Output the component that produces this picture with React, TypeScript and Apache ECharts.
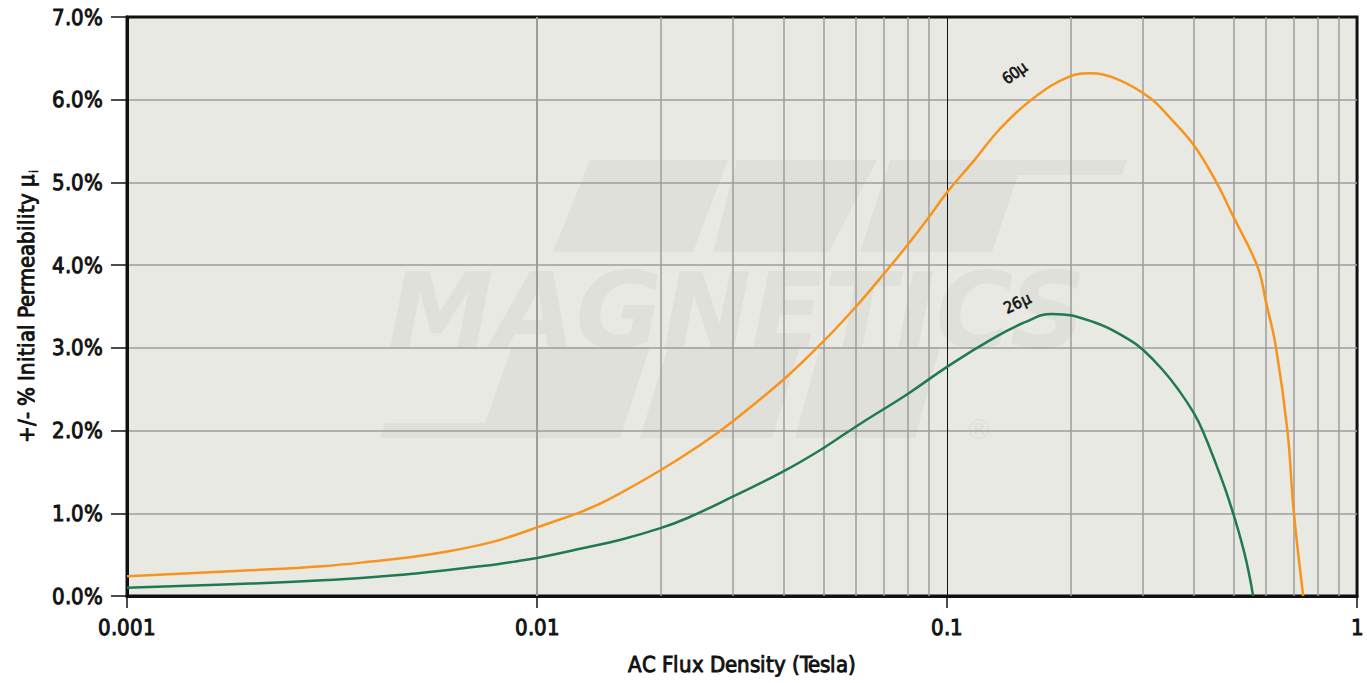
import React, { useEffect, useRef } from "react";
import * as echarts from "echarts";

// ---- data ----
const b60: number[] = [0.001, 0.002, 0.003, 0.004, 0.005, 0.006, 0.007, 0.008, 0.009, 0.01, 0.013, 0.015, 0.02, 0.025, 0.03, 0.04, 0.05, 0.06, 0.07, 0.08, 0.09, 0.1, 0.1166, 0.1342, 0.1615, 0.1987, 0.225, 0.26, 0.311, 0.35, 0.4, 0.453, 0.5, 0.572, 0.6, 0.634, 0.677, 0.7, 0.739];
const p60: number[] = [0.24, 0.31, 0.36, 0.42, 0.475, 0.535, 0.6, 0.67, 0.75, 0.83, 1.03, 1.17, 1.52, 1.825, 2.11, 2.62, 3.08, 3.5, 3.89, 4.24, 4.57, 4.88, 5.27, 5.64, 6.01, 6.28, 6.32, 6.25, 6.03, 5.78, 5.45, 5.01, 4.58, 3.98, 3.55, 3.01, 1.98, 1.05, 0];

const b26: number[] = [0.001, 0.002, 0.003, 0.004, 0.005, 0.006, 0.007, 0.008, 0.009, 0.01, 0.013, 0.016, 0.02, 0.0232, 0.03, 0.04, 0.05, 0.06, 0.08, 0.1, 0.128, 0.155, 0.1806, 0.2284, 0.278, 0.3, 0.3355, 0.3684, 0.4, 0.42, 0.4524, 0.4878, 0.5305, 0.5579];
const p26: number[] = [0.1, 0.15, 0.19, 0.23, 0.27, 0.31, 0.35, 0.385, 0.423, 0.46, 0.58, 0.68, 0.82, 0.94, 1.2, 1.51, 1.79, 2.05, 2.44, 2.77, 3.1, 3.31, 3.41, 3.31, 3.1, 2.98, 2.735, 2.48, 2.21, 2.0, 1.6, 1.15, 0.53, 0];

const xTickLabels: string[] = ["0.001", "0.01", "0.1", "1"];
const minorGrid: number[] = [0.002, 0.003, 0.004, 0.005, 0.006, 0.007, 0.008, 0.009, 0.02, 0.03, 0.04, 0.05, 0.06, 0.07, 0.08, 0.09, 0.2, 0.3, 0.4, 0.5, 0.6, 0.7, 0.8, 0.9];

const curveLabels = [
  { name: "60μ", b: 0.146, p: 6.32, rotate: 35 },
  { name: "26μ", b: 0.1483, p: 3.54, rotate: 25 },
];

const FONT = "CondX, 'DejaVu Sans', sans-serif";
const INK = "#111";
const ORANGE = "#f7941d";
const GREEN = "#217a4f";
const WM = "#e0e0db";

const FACE_CSS = `
@font-face{font-family:'CondX';font-weight:400;src:local('Liberation Sans Narrow'),local('LiberationSansNarrow-Regular'),local('DejaVu Sans Condensed'),local('DejaVuSansCondensed');}
`;

const boldish = { textBorderColor: INK, textBorderWidth: 0.9 };

export default function App() {
  const ref = useRef<HTMLDivElement>(null);
  useEffect(() => {
    document.body.style.margin = "0";
    const style = document.createElement("style");
    style.textContent = FACE_CSS;
    document.head.appendChild(style);
    let chart: echarts.ECharts | null = null;
    let disposed = false;
    const toXY = (bs: number[], ps: number[]) => bs.map((b, i) => [b, ps[i]]);
    const option: any = {
      animation: false,
      textStyle: { fontFamily: FONT },
      grid: {
        left: 127,
        right: 9,
        top: 17,
        bottom: 87,
        show: true,
        backgroundColor: "transparent",
        borderColor: INK,
        borderWidth: 3,
      },
      graphic: [
        { type: "rect", z: -20, shape: { x: 127, y: 17, width: 1231, height: 579 }, style: { fill: "#e9e9e4" } },
        { type: "polygon", z: -10, shape: { points: [[590, 160], [728, 160], [693, 252], [553, 252]] }, style: { fill: WM } },
        { type: "polygon", z: -10, shape: { points: [[737, 160], [877, 160], [829, 252], [713, 252]] }, style: { fill: WM } },
        { type: "polygon", z: -10, shape: { points: [[890, 160], [1127, 160], [1122, 175], [1018, 175], [992, 252], [860, 252]] }, style: { fill: WM } },
        { type: "polygon", z: -10, shape: { points: [[512, 347], [650, 347], [620, 438], [380, 438], [385, 423], [485, 423]] }, style: { fill: WM } },
        { type: "polygon", z: -10, shape: { points: [[668, 347], [800, 347], [772, 438], [640, 438]] }, style: { fill: WM } },
        { type: "polygon", z: -10, shape: { points: [[820, 347], [940, 347], [915, 438], [795, 438]] }, style: { fill: WM } },
        {
          type: "text",
          z: -9,
          x: 388,
          y: 258,
          style: { text: "MAGNETICS", fill: WM, font: "italic 900 106px 'DejaVu Sans', sans-serif" },
        },
        { type: "text", z: -9, x: 965, y: 415, style: { text: "®", fill: WM, font: "28px 'DejaVu Sans', sans-serif" } },
      ],
      xAxis: {
        type: "log",
        logBase: 10,
        min: 0.001,
        max: 1,
        name: "AC Flux Density (Tesla)",
        nameLocation: "middle",
        nameGap: 57,
        nameTextStyle: { fontFamily: FONT, fontSize: 22, color: INK, ...boldish },
        axisLine: { show: true, lineStyle: { color: INK, width: 3 } },
        axisTick: { show: true, length: 12, lineStyle: { color: INK, width: 1.5 } },
        axisLabel: {
          fontFamily: FONT,
          fontSize: 22,
          color: INK,
          margin: 20,
          ...boldish,
          formatter: (v: number) => xTickLabels[Math.round(Math.log10(v)) + 3],
        },
        splitLine: { show: true, showMinLine: false, showMaxLine: false, lineStyle: { color: INK, width: 1 } },
      },
      yAxis: {
        type: "value",
        min: 0,
        max: 7,
        interval: 1,
        name: "+/- % Initial Permeability μ{sub|i}",
        nameLocation: "middle",
        nameRotate: 90,
        nameGap: 85,
        nameTextStyle: {
          fontFamily: FONT,
          fontSize: 22,
          color: INK,
          ...boldish,
          rich: { sub: { fontFamily: FONT, fontSize: 12, color: INK, verticalAlign: "bottom", padding: [16, 0, 0, 1], ...boldish, textBorderWidth: 0.5 } },
        },
        axisLine: { show: true, lineStyle: { color: INK, width: 3 } },
        axisTick: { show: true, length: 16, lineStyle: { color: INK, width: 1.5 } },
        axisLabel: {
          fontFamily: FONT,
          fontSize: 22,
          color: INK,
          margin: 24,
          ...boldish,
          formatter: (v: number) => v.toFixed(1) + "%",
        },
        splitLine: { show: true, showMinLine: false, showMaxLine: false, lineStyle: { color: "#9c9c9c", width: 1.5 } },
      },
      series: [
        {
          type: "line",
          name: "minor",
          data: [],
          z: 1,
          silent: true,
          markLine: {
            silent: true,
            symbol: "none",
            label: { show: false },
            lineStyle: { color: "#9c9c9c", width: 1.5, type: "solid" },
            data: minorGrid.map((v) => ({ xAxis: v })),
          },
        },
        {
          type: "line",
          name: "60μ",
          data: toXY(b60, p60),
          showSymbol: false,
          smooth: 0.4,
          z: 5,
          lineStyle: { color: ORANGE, width: 2.5 },
          markPoint: {
            symbol: "circle",
            symbolSize: 0,
            label: { show: true, position: "inside", formatter: curveLabels[0].name, rotate: curveLabels[0].rotate, fontFamily: FONT, fontSize: 16, color: INK, textBorderColor: INK, textBorderWidth: 0.6 },
            data: [{ coord: [curveLabels[0].b, curveLabels[0].p] }],
          },
        },
        {
          type: "line",
          name: "26μ",
          data: toXY(b26, p26),
          showSymbol: false,
          smooth: 0.45,
          z: 5,
          lineStyle: { color: GREEN, width: 2.5 },
          markPoint: {
            symbol: "circle",
            symbolSize: 0,
            label: { show: true, position: "inside", formatter: curveLabels[1].name, rotate: curveLabels[1].rotate, fontFamily: FONT, fontSize: 16, color: INK, textBorderColor: INK, textBorderWidth: 0.6 },
            data: [{ coord: [curveLabels[1].b, curveLabels[1].p] }],
          },
        },
      ],
    };
    const start = () => {
      if (disposed || !ref.current) return;
      chart = echarts.init(ref.current, undefined, { renderer: "svg" });
      chart.setOption(option);
    };
    const fonts: any = (document as any).fonts;
    if (fonts && fonts.load) {
      fonts.load("400 20px CondX").then(start, start);
    } else {
      start();
    }
    return () => {
      disposed = true;
      if (chart) chart.dispose();
      style.remove();
    };
  }, []);
  return <div ref={ref} style={{ width: 1367, height: 683 }} />;
}
